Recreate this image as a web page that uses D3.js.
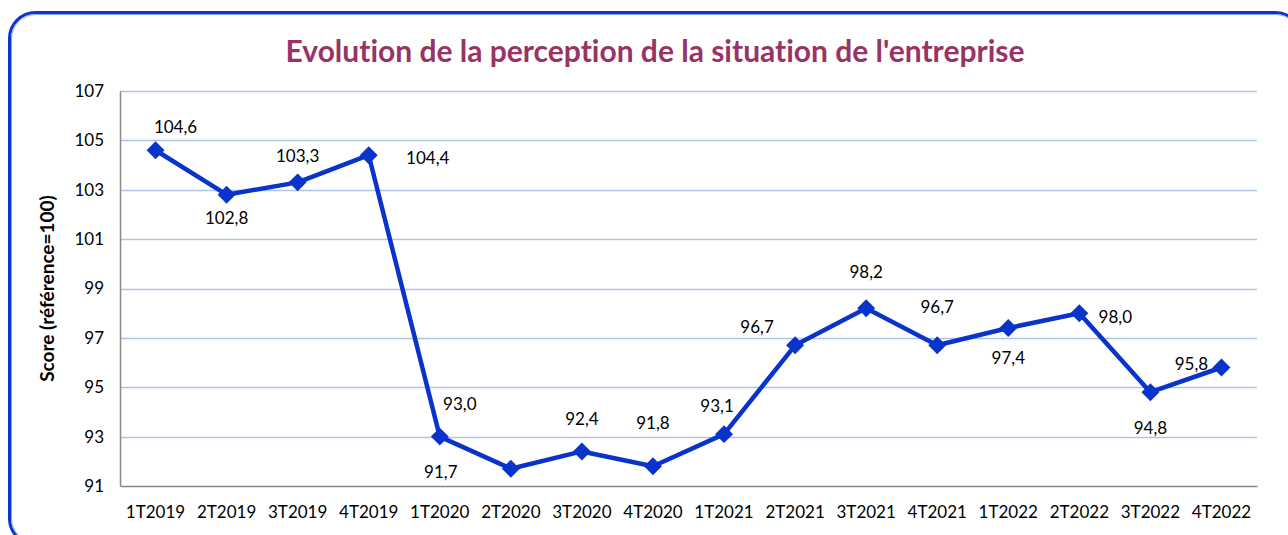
<!DOCTYPE html>
<html>
<head>
<meta charset="utf-8">
<script src="https://cdn.jsdelivr.net/npm/d3@7/dist/d3.min.js"></script>
<style>
  html, body { margin: 0; padding: 0; background: #fff; }
  svg { display: block; font-family: Lato, "Open Sans", sans-serif; font-variant-ligatures: none; }
</style>
</head>
<body>
<div id="chart"></div>
<script>
// quarters on x axis
const quarters = ['1T2019', '2T2019', '3T2019', '4T2019',
    '1T2020', '2T2020', '3T2020', '4T2020',
    '1T2021', '2T2021', '3T2021', '4T2021',
    '1T2022', '2T2022', '3T2022', '4T2022'];

// score values (référence = 100)
const scores = [104.6, 102.8, 103.3, 104.4,
    93.0, 91.7, 92.4, 91.8,
    93.1, 96.7, 98.2, 96.7,
    97.4, 98.0, 94.8, 95.8];

const yTicks = [91, 93, 95, 97, 99, 101, 103, 105, 107];

// where each value label sits relative to its point (px)
const labelOffsets = [[20, -23], [0, 23], [0, -26], [59, 3],
    [20, -33], [-70, 3], [0, -32], [0, -43],
    [-7, -28], [-38, -18], [0, -36], [0, -38],
    [0, 30], [36, 4], [0, 36], [-30, -3]];

const W = 1288, H = 535;
const margin = { top: 91, right: 31, bottom: 49, left: 120 };

const svg = d3.select('#chart').append('svg')
    .attr('width', W)
    .attr('height', H);

// rounded frame, double blue line
svg.append('rect')
    .attr('x', 9.5).attr('y', 12.5)
    .attr('width', 1292).attr('height', 532)
    .attr('rx', 26)
    .attr('fill', 'none')
    .attr('stroke', '#0a35d0')
    .attr('stroke-width', 3);
svg.append('rect')
    .attr('x', 11.5).attr('y', 14.5)
    .attr('width', 1288).attr('height', 528)
    .attr('rx', 24)
    .attr('fill', 'none')
    .attr('stroke', '#8aa2ec')
    .attr('stroke-width', 1);

svg.append('text')
    .attr('x', 655).attr('y', 62)
    .attr('text-anchor', 'middle')
    .attr('font-weight', 'bold')
    .attr('font-size', 30)
    .attr('fill', '#993366')
    .text("Evolution de la perception de la situation de l'entreprise");

const x = d3.scaleBand()
    .domain(quarters)
    .range([margin.left, W - margin.right]);

const y = d3.scaleLinear()
    .domain([91, 107])
    .range([H - margin.bottom, margin.top]);

// gridlines
svg.append('g')
    .selectAll('line')
    .data(yTicks.filter(d => d > 91))
    .join('line')
    .attr('x1', margin.left)
    .attr('x2', W - margin.right)
    .attr('y1', d => Math.round(y(d)) + 0.5)
    .attr('y2', d => Math.round(y(d)) + 0.5)
    .attr('stroke', '#aec3e8')
    .attr('stroke-width', 1.5);

// y axis
const yAxis = svg.append('g')
    .attr('transform', `translate(${margin.left},0)`)
    .call(d3.axisLeft(y).tickValues(yTicks).tickSize(0).tickPadding(16));
yAxis.select('.domain').attr('stroke', '#898989').attr('stroke-width', 1.5);
yAxis.selectAll('text')
    .attr('font-family', 'Lato, sans-serif')
    .attr('font-size', 17)
    .attr('fill', '#000');

// x axis
const xAxis = svg.append('g')
    .attr('transform', `translate(0,${H - margin.bottom})`)
    .call(d3.axisBottom(x).tickSize(0).tickPadding(20));
xAxis.select('.domain').attr('stroke', '#898989').attr('stroke-width', 1.5);
xAxis.selectAll('text')
    .attr('font-family', 'Lato, sans-serif')
    .attr('font-size', 17)
    .attr('fill', '#000');

svg.append('text')
    .attr('transform', `translate(54,${(margin.top + H - margin.bottom) / 2}) rotate(-90)`)
    .attr('text-anchor', 'middle')
    .attr('font-weight', 'bold')
    .attr('font-size', 19)
    .text('Score (référence=100)');

const cx = (d, i) => x(quarters[i]) + x.bandwidth() / 2;

const line = d3.line()
    .x((d, i) => cx(d, i))
    .y(d => y(d));

svg.append('path')
    .datum(scores)
    .attr('d', line)
    .attr('fill', 'none')
    .attr('stroke', '#0a33cc')
    .attr('stroke-width', 4.5)
    .attr('stroke-linejoin', 'round');

svg.append('g')
    .selectAll('path')
    .data(scores)
    .join('path')
    .attr('d', d3.symbol(d3.symbolSquare, 160))
    .attr('transform', (d, i) => `translate(${cx(d, i)},${y(d)}) rotate(45)`)
    .attr('fill', '#0a33cc');

const fmt = d3.format('.1f');
svg.append('g')
    .selectAll('text')
    .data(scores)
    .join('text')
    .attr('x', (d, i) => cx(d, i) + labelOffsets[i][0])
    .attr('y', (d, i) => y(d) + labelOffsets[i][1])
    .attr('dy', '0.35em')
    .attr('text-anchor', 'middle')
    .attr('font-size', 17)
    .attr('fill', '#000')
    .text(d => fmt(d).replace('.', ','));
</script>
</body>
</html>
